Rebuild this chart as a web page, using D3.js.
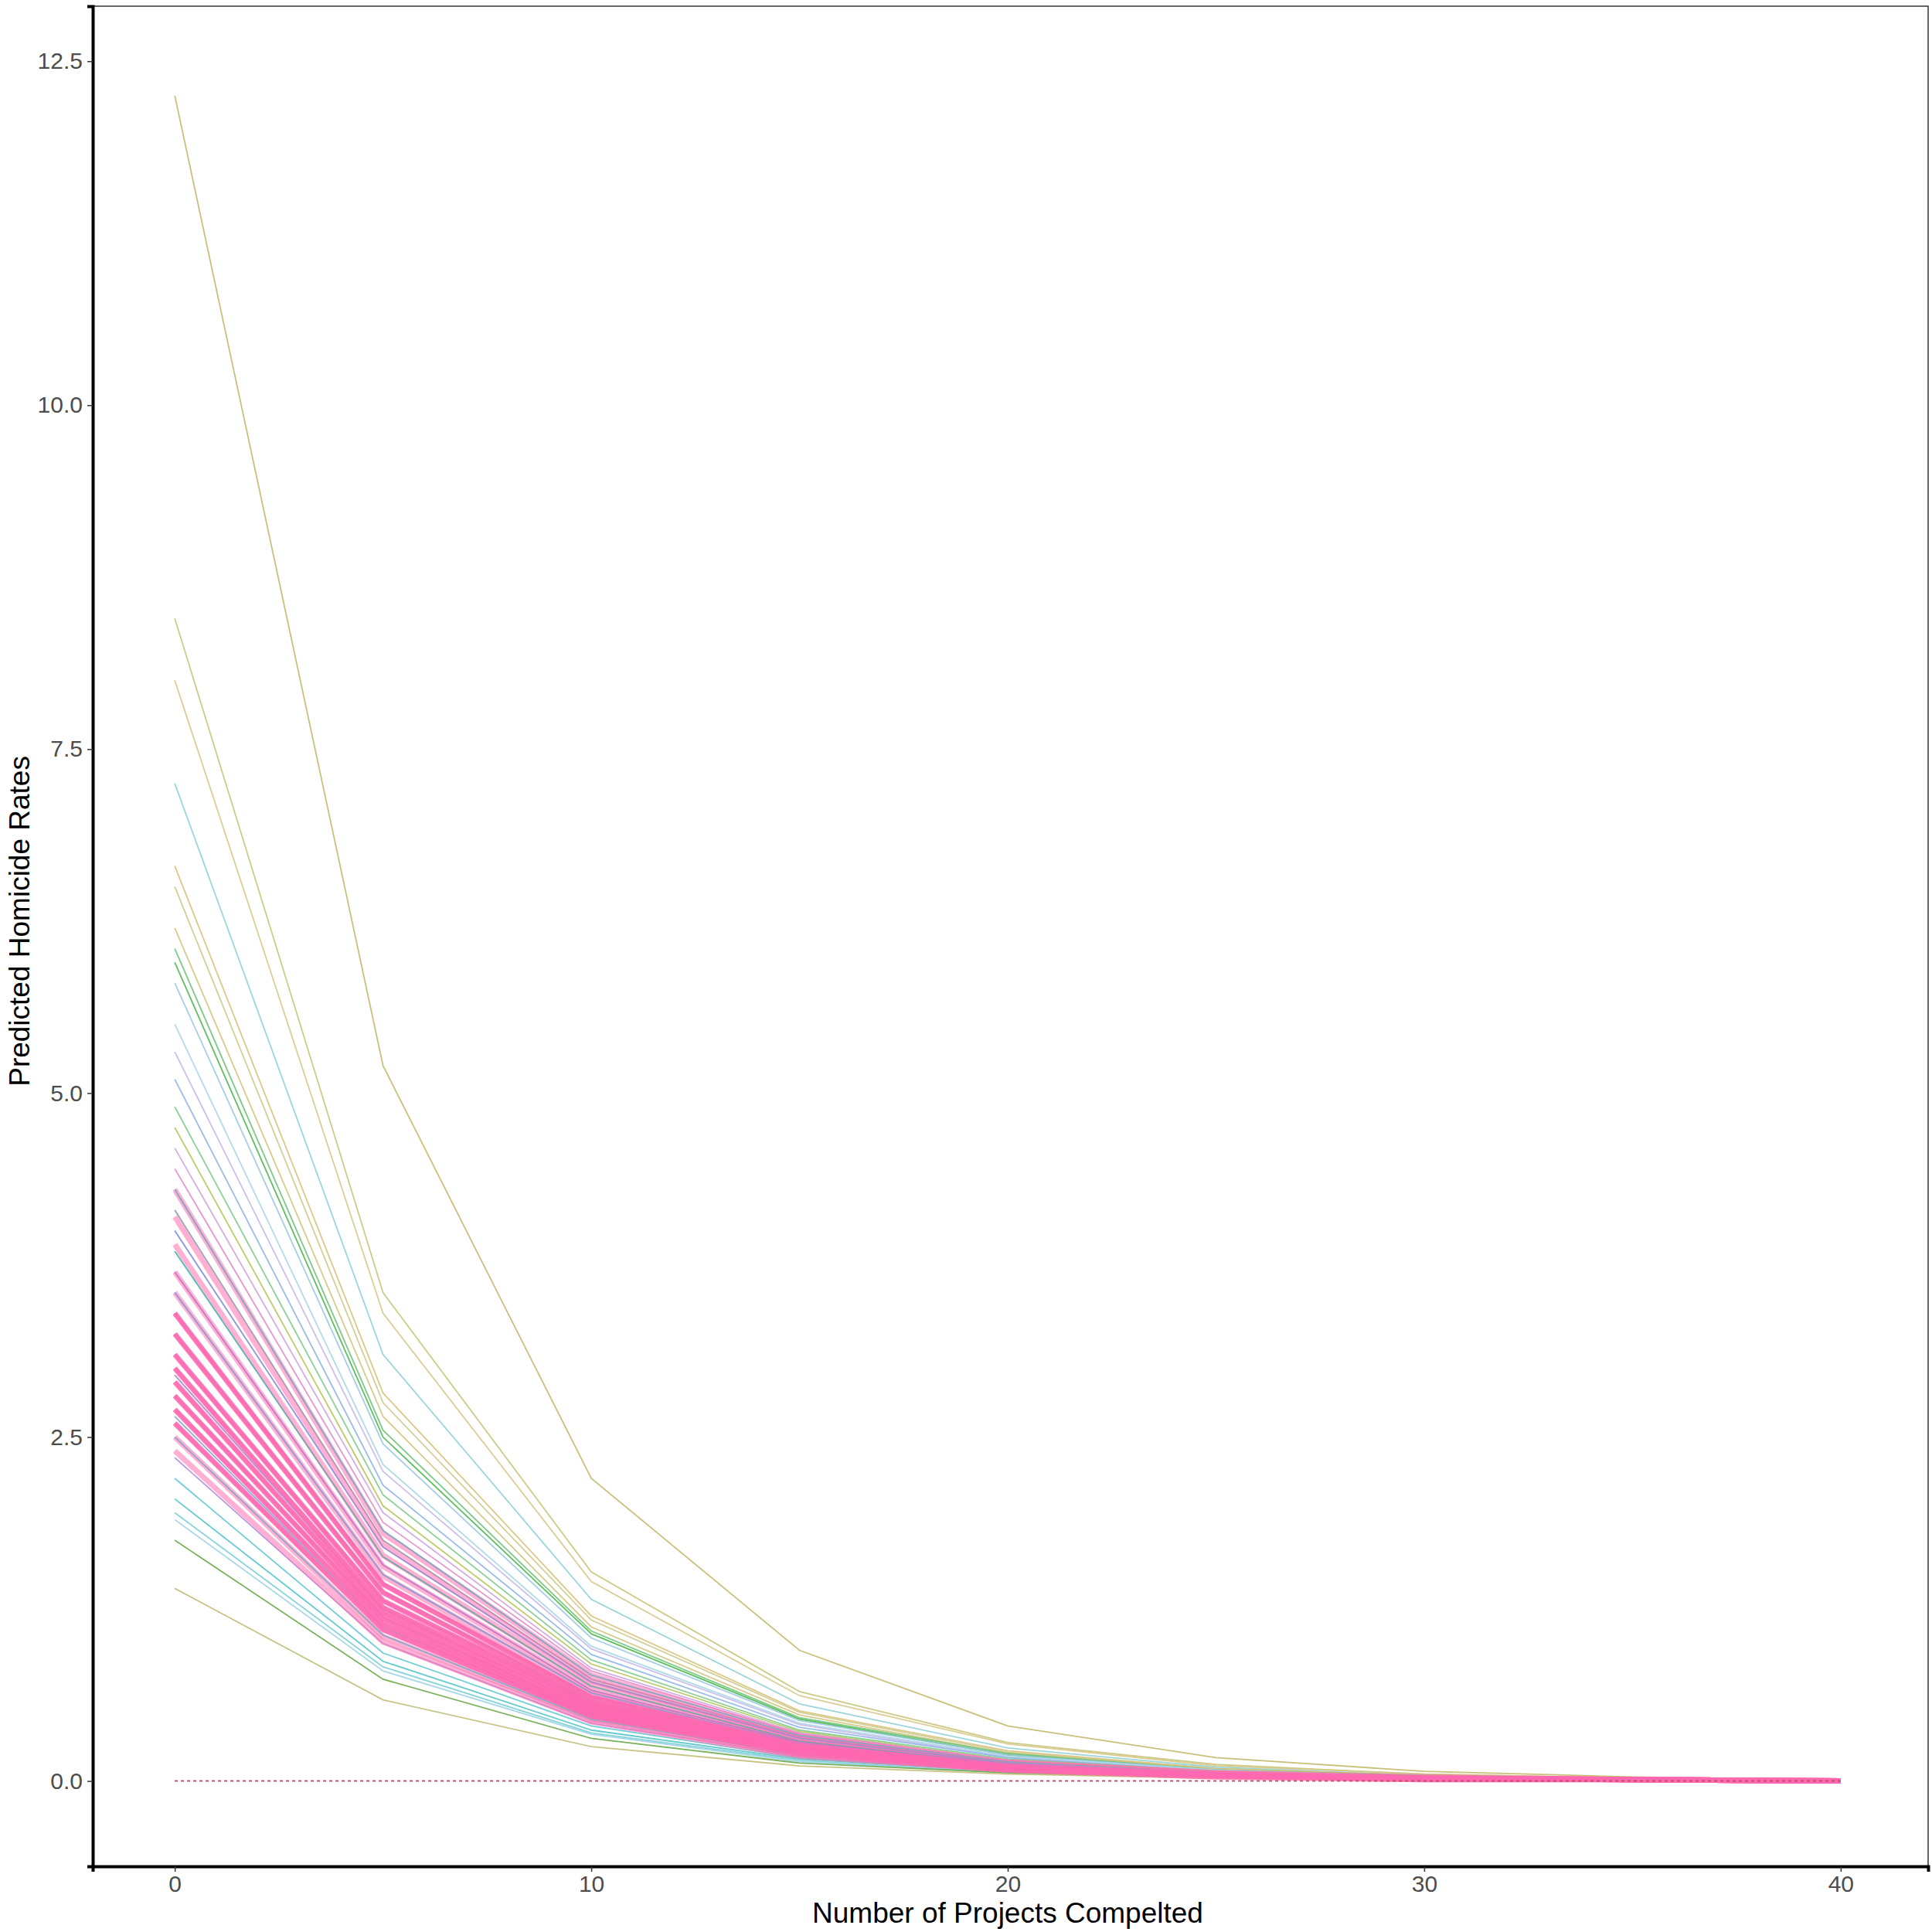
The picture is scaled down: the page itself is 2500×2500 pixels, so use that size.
<!DOCTYPE html>
<html><head><meta charset="utf-8">
<script src="https://cdn.jsdelivr.net/npm/d3@7"></script>
<style>body{margin:0;background:#fff}</style>
</head><body>
<svg id="chart" width="2500" height="2500"></svg>
<script>
var xValues = [0, 5, 10, 15, 20, 25, 30, 35, 40];
var xTicks = [0, 10, 20, 30, 40];
var yTicks = [0, 2.5, 5, 7.5, 10, 12.5];

// thin coloured lines, one row per district
var lineRows = [
  [12.25,5.2,2.2,0.95,0.4,0.17,0.07,0.03,0.01],
  [8.45,3.55,1.52,0.65,0.28,0.12,0.05,0.02,0.01],
  [8.0,3.4,1.45,0.62,0.27,0.11,0.05,0.02,0.01],
  [7.25,3.1,1.32,0.56,0.24,0.1,0.04,0.02,0.01],
  [6.65,2.82,1.2,0.51,0.22,0.09,0.04,0.02,0.01],
  [6.5,2.75,1.17,0.5,0.21,0.09,0.04,0.02,0.01],
  [6.2,2.65,1.12,0.48,0.2,0.09,0.04,0.02,0.01],
  [6.05,2.55,1.09,0.46,0.2,0.08,0.04,0.02,0.01],
  [5.95,2.5,1.07,0.45,0.19,0.08,0.03,0.01,0.01],
  [5.8,2.45,1.04,0.44,0.19,0.08,0.03,0.01,0.01],
  [5.5,2.3,0.98,0.42,0.18,0.08,0.03,0.01,0.01],
  [5.3,2.25,0.96,0.41,0.17,0.07,0.03,0.01,0],
  [5.1,2.15,0.92,0.39,0.17,0.07,0.03,0.01,0],
  [4.9,2.08,0.88,0.37,0.16,0.07,0.03,0.01,0],
  [4.75,2.0,0.85,0.36,0.15,0.07,0.03,0.01,0],
  [4.6,1.95,0.82,0.35,0.15,0.06,0.03,0.01,0],
  [4.45,1.88,0.8,0.34,0.14,0.06,0.03,0.01,0],
  [4.3,1.82,0.77,0.33,0.14,0.06,0.02,0.01,0],
  [4.15,1.75,0.74,0.32,0.13,0.06,0.02,0.01,0],
  [4.0,1.7,0.72,0.31,0.13,0.05,0.02,0.01,0],
  [3.85,1.63,0.69,0.29,0.12,0.05,0.02,0.01,0],
  [3.7,1.57,0.66,0.28,0.12,0.05,0.02,0.01,0],
  [3.55,1.5,0.64,0.27,0.11,0.05,0.02,0.01,0],
  [3.4,1.44,0.61,0.26,0.11,0.05,0.02,0.01,0],
  [3.25,1.38,0.58,0.25,0.1,0.04,0.02,0.01,0],
  [3.1,1.31,0.56,0.24,0.1,0.04,0.02,0.01,0],
  [2.95,1.25,0.53,0.22,0.1,0.04,0.02,0.01,0],
  [2.8,1.19,0.5,0.21,0.09,0.04,0.02,0.01,0],
  [2.65,1.12,0.48,0.2,0.09,0.04,0.02,0.01,0],
  [2.5,1.06,0.45,0.19,0.08,0.03,0.01,0.01,0],
  [2.35,1.0,0.42,0.18,0.08,0.03,0.01,0.01,0],
  [2.2,0.93,0.4,0.17,0.07,0.03,0.01,0,0],
  [2.05,0.87,0.37,0.16,0.07,0.03,0.01,0,0],
  [1.95,0.83,0.35,0.15,0.06,0.03,0.01,0,0],
  [1.9,0.8,0.34,0.14,0.06,0.03,0.01,0,0],
  [1.75,0.74,0.31,0.13,0.06,0.02,0.01,0,0],
  [1.4,0.59,0.25,0.11,0.05,0.02,0.01,0,0]
];
var lineColors = ["#C4B96A","#C9C57A","#D6C88A","#8FD2D8","#D8C27A","#CFC98C","#D2C57C","#6FC47A",
  "#4DB84F","#9CC9E0","#A7D7E6","#C8B8E8","#8FB5E8","#7FCB8C","#B6C75A","#D0A4E0","#E58BC8",
  "#6FA8E0","#56C7A8","#A58FE0","#4FC0C0","#E07BB9","#6F9BE0","#3FB8A0","#9A7FD8","#5FB0E0",
  "#E36FB0","#4FC8B8","#C78AE0","#88A8E8","#B490E0","#62C9D0","#53C4C8","#79CFD6","#A0D4E6",
  "#6DAA4A","#C2BE7A"];

// dense pink band
var pinkRows = [
  [4.3,1.8,0.77,0.33,0.14,0.06,0.03,0.01,0],
  [4.1,1.72,0.73,0.31,0.13,0.06,0.02,0.01,0],
  [3.9,1.64,0.7,0.3,0.13,0.05,0.02,0.01,0],
  [3.7,1.56,0.66,0.28,0.12,0.05,0.02,0.01,0],
  [3.55,1.49,0.63,0.27,0.11,0.05,0.02,0.01,0],
  [3.4,1.43,0.61,0.26,0.11,0.05,0.02,0.01,0],
  [3.25,1.37,0.58,0.25,0.1,0.04,0.02,0.01,0],
  [3.1,1.31,0.56,0.24,0.1,0.04,0.02,0.01,0],
  [3.0,1.26,0.54,0.23,0.1,0.04,0.02,0.01,0],
  [2.9,1.22,0.52,0.22,0.09,0.04,0.02,0.01,0],
  [2.8,1.18,0.5,0.21,0.09,0.04,0.02,0.01,0],
  [2.7,1.14,0.48,0.21,0.09,0.04,0.02,0.01,0],
  [2.6,1.1,0.47,0.2,0.08,0.04,0.01,0.01,0],
  [2.5,1.05,0.45,0.19,0.08,0.03,0.01,0.01,0],
  [2.4,1.01,0.43,0.18,0.08,0.03,0.01,0.01,0]
];

var svg = d3.select("#chart"),
    margin = { top: 8, right: 5, bottom: 85, left: 120 },
    width = +svg.attr("width") - margin.left - margin.right,
    height = +svg.attr("height") - margin.top - margin.bottom,
    g = svg.append("g").attr("transform", "translate(" + margin.left + "," + margin.top + ")");

var x = d3.scaleLinear().domain([-1.97, 42.1]).range([0, width]);
var y = d3.scaleLinear().domain([-0.62, 12.9]).range([height, 0]);

var line = d3.line().x(function(d, i) { return x(xValues[i]); }).y(function(d) { return y(d); });

// panel border top/right
g.append("rect").attr("width", width).attr("height", height)
    .attr("fill", "none").attr("stroke", "#333").attr("stroke-width", 1.5);

g.append("g").selectAll("path.ln").data(lineRows).enter().append("path")
    .attr("d", line).attr("fill", "none")
    .attr("stroke", function(d, i) { return lineColors[i % lineColors.length]; })
    .attr("stroke-width", 1.8).attr("stroke-opacity", 0.9);

g.append("g").selectAll("path.pink").data(pinkRows).enter().append("path")
    .attr("d", line).attr("fill", "none").attr("stroke", "#FF6FAE")
    .attr("stroke-width", 7).attr("stroke-opacity", 0.55);

g.append("g").selectAll("path.ln2").data(lineRows.slice(17, 30)).enter().append("path")
    .attr("d", line).attr("fill", "none")
    .attr("stroke", function(d, i) { return lineColors[(i + 20) % lineColors.length]; })
    .attr("stroke-width", 1.5).attr("stroke-opacity", 0.6);

// saturated core of the band
g.append("g").selectAll("path.pink3").data(pinkRows.slice(5, 13)).enter().append("path")
    .attr("d", line).attr("fill", "none").attr("stroke", "#FF69B0")
    .attr("stroke-width", 6).attr("stroke-opacity", 0.85);

// reference line at zero
g.append("line").attr("x1", x(0)).attr("x2", x(40)).attr("y1", y(0)).attr("y2", y(0))
    .attr("stroke", "#C0506A").attr("stroke-width", 2).attr("stroke-dasharray", "4,4");

var xAxis = g.append("g").attr("transform", "translate(0," + height + ")")
    .call(d3.axisBottom(x).tickValues(xTicks).tickSize(7).tickPadding(5));
var yAxis = g.append("g")
    .call(d3.axisLeft(y).tickValues(yTicks).tickFormat(d3.format(".1f")).tickSize(7).tickPadding(6));
[xAxis, yAxis].forEach(function(a) {
    a.select(".domain").attr("stroke", "#000").attr("stroke-width", 4);
    a.selectAll(".tick line").attr("stroke", "#333").attr("stroke-width", 1.5);
    a.selectAll("text").attr("font-family", "Liberation Sans, Arial").attr("font-size", 30).attr("fill", "#4d4d4d");
});

svg.append("text").attr("x", margin.left + x(20)).attr("y", 2488)
    .attr("text-anchor", "middle").attr("font-family", "Liberation Sans, Arial")
    .attr("font-size", 37).text("Number of Projects Compelted");
svg.append("text").attr("transform", "translate(38," + (margin.top + y(6.25)) + ") rotate(-90)")
    .attr("text-anchor", "middle").attr("font-family", "Liberation Sans, Arial")
    .attr("font-size", 37).text("Predicted Homicide Rates");
</script>
</body></html>
